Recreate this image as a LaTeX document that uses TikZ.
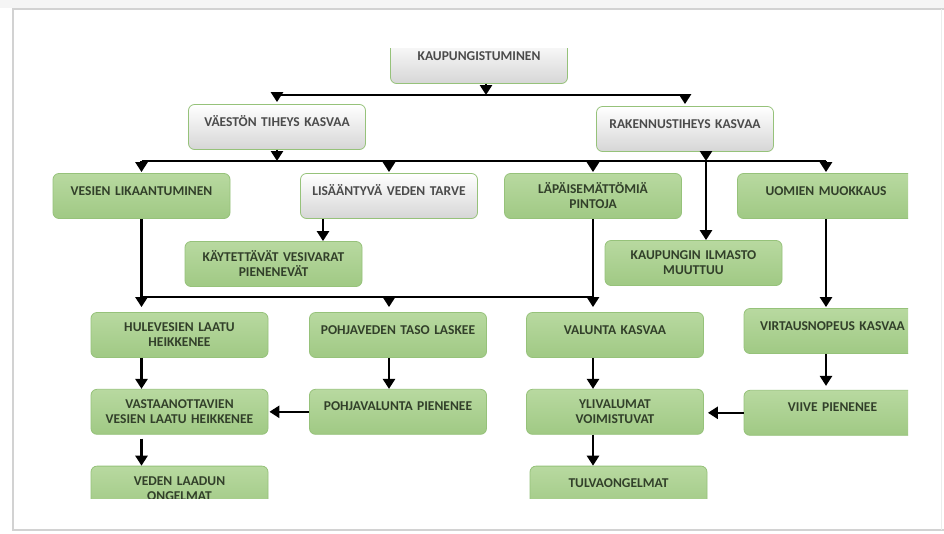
\documentclass[tikz,border=0pt]{standalone}
\usepackage{fontspec}
\setmainfont{Carlito}
\usetikzlibrary{arrows.meta,positioning,calc}

\definecolor{greentop}{RGB}{184,217,160}
\definecolor{greenbot}{RGB}{160,201,132}
\definecolor{greybot}{RGB}{214,214,214}
\definecolor{boxedge}{RGB}{150,194,122}
\definecolor{txtgreen}{RGB}{50,64,42}
\definecolor{txtgrey}{RGB}{75,75,75}

\begin{document}
\begin{tikzpicture}[
    x=1pt, y=-1pt,
    font=\fontsize{13.5}{15}\selectfont\bfseries,
    node distance = 31pt and 40pt,
    box/.style={rectangle, draw=boxedge, line width=0.8pt,
                rounded corners=6pt, align=center,
                minimum width=177pt, minimum height=45pt,
                text width=174pt, inner sep=1pt},
    effect/.style={box, top color=greentop, bottom color=greenbot, text=txtgreen},
    cause/.style ={box, top color=white, bottom color=greybot, text=txtgrey},
    oneline/.style={text height=9pt, text depth=11pt},
    arrow/.style={-{Triangle[width=12pt,length=10pt]}, line width=2.6pt},
    bus/.style={line width=2.6pt}
]
\useasboundingbox (0,0) rectangle (944,533);

%---- FRAME ------------------------------------------
\fill[white] (0,0) rectangle (944,533);
\fill[gray!8] (0,0) rectangle (944,8);
\draw[gray!35, line width=1.5pt] (944,9) -- (13,9) -- (13,530) -- (944,530);
\draw[gray!15, line width=1pt] (941,9) -- (941,530);

\begin{scope}
\clip (0,48) rectangle (908,498);

%---- CAUSES -----------------------------------------
\node (kaup)  [cause, oneline] at (479,61)  {KAUPUNGISTUMINEN};
\node (vaest) [cause, oneline] at (277,127) {VÄESTÖN TIHEYS KASVAA};
\node (rak)   [cause, oneline] at (685,129) {RAKENNUSTIHEYS KASVAA};

%---- FIRST EFFECTS ----------------------------------
\node (vesien)  [effect, oneline] at (141.5,196) {VESIEN LIKAANTUMINEN};
\node (lisaa)   [cause, oneline]  at (389,196)   {LISÄÄNTYVÄ VEDEN TARVE};
\node (lapaise) [effect]          at (593,196)   {LÄPÄISEMÄTTÖMIÄ\\PINTOJA};
\node (uomien)  [effect, oneline] at (826,196)   {UOMIEN MUOKKAUS};

\node (kayt)    [effect] at (273.5,264) {KÄYTETTÄVÄT VESIVARAT\\PIENENEVÄT};
\node (ilmasto) [effect] at (693.5,263) {KAUPUNGIN ILMASTO\\MUUTTUU};

%---- SECOND EFFECTS ---------------------------------
\node (hule)     [effect]          at (179.5,335) {HULEVESIEN LAATU\\HEIKKENEE};
\node (pohjaved) [effect, oneline] at (398,335)   {POHJAVEDEN TASO LASKEE};
\node (valunta)  [effect, oneline] at (615,335)   {VALUNTA KASVAA};
\node (virtaus)  [effect, oneline] at (832.5,331) {VIRTAUSNOPEUS KASVAA};

\node (vast)     [effect, below=of hule]               {VASTAANOTTAVIEN\\VESIEN LAATU HEIKKENEE};
\node (pohjaval) [effect, oneline, below=of pohjaved]  {POHJAVALUNTA PIENENEE};
\node (ylival)   [effect, below=of valunta]            {YLIVALUMAT\\VOIMISTUVAT};
\node (viive)    [effect, oneline, below=36pt of virtaus] {VIIVE PIENENEE};

\node (veden) [effect, below=of vast]                          {VEDEN LAADUN\\ONGELMAT};
\node (tulva) [effect, oneline, below=of ylival, xshift=3.5pt] {TULVAONGELMAT};

%---- BUSES ------------------------------------------
\coordinate (bus1) at (0,95);
\coordinate (bus2) at (0,161);
\coordinate (bus3) at (0,297);
\coordinate (kaupout) at ([xshift=7pt]kaup.south);
\coordinate (rakout)  at ([xshift=21pt]rak.south);
\coordinate (lisout)  at ([xshift=-66pt]lisaa.south);

\draw[bus] (vaest |- bus1) -- (rak |- bus1);
\draw[bus] (vesien |- bus2) -- (uomien |- bus2);
\draw[bus] (vesien.south) -- (vesien |- bus3) -- (lapaise |- bus3);

%---- ARROWS -----------------------------------------
\draw[arrow] (kaupout) -- (kaupout |- bus1);
\draw[arrow, shorten >=2pt] (vaest |- bus1) -- (vaest.north);
\draw[arrow, shorten >=2pt] (rak |- bus1) -- (rak.north);

\draw[arrow] (vaest.south) -- (vaest |- bus2);
\draw[arrow] (rakout) -- (rakout |- bus2);
\draw[arrow] (rakout |- bus2) -- (rakout |- ilmasto.north);
\foreach \n in {vesien, lisaa, lapaise, uomien}
  \draw[arrow, shorten >=1pt] (\n |- bus2) -- (\n.north);

\draw[arrow] (lisout) -- (lisout |- kayt.north);

\draw[arrow, shorten >=5pt] (vesien |- bus3) -- (vesien |- hule.north);
\draw[arrow, shorten >=5pt] (lisaa |- bus3) -- (lisaa |- pohjaved.north);
\draw[arrow, shorten >=5pt] (lapaise.south) -- (lapaise |- valunta.north);

\draw[arrow] (vesien |- hule.south) -- (vesien |- vast.north);
\draw[arrow, shorten <=4pt] (vesien |- vast.south) -- (vesien |- veden.north);
\draw[arrow] (lisaa |- pohjaved.south) -- (lisaa |- pohjaval.north);
\draw[arrow] (lapaise |- valunta.south) -- (lapaise |- ylival.north);
\draw[arrow] (lapaise |- ylival.south) -- (lapaise |- tulva.north);
\draw[arrow, shorten >=4pt] (uomien |- virtaus.south) -- (uomien |- viive.north);
\draw[arrow, shorten >=1pt] (uomien.south) -- (uomien |- virtaus.north);

\draw[arrow, shorten >=1pt] (pohjaval.west) -- (pohjaval.west -| vast.east);
\draw[arrow, shorten >=4pt] (viive.west) -- (viive.west -| ylival.east);
\end{scope}
\end{tikzpicture}
\end{document}
